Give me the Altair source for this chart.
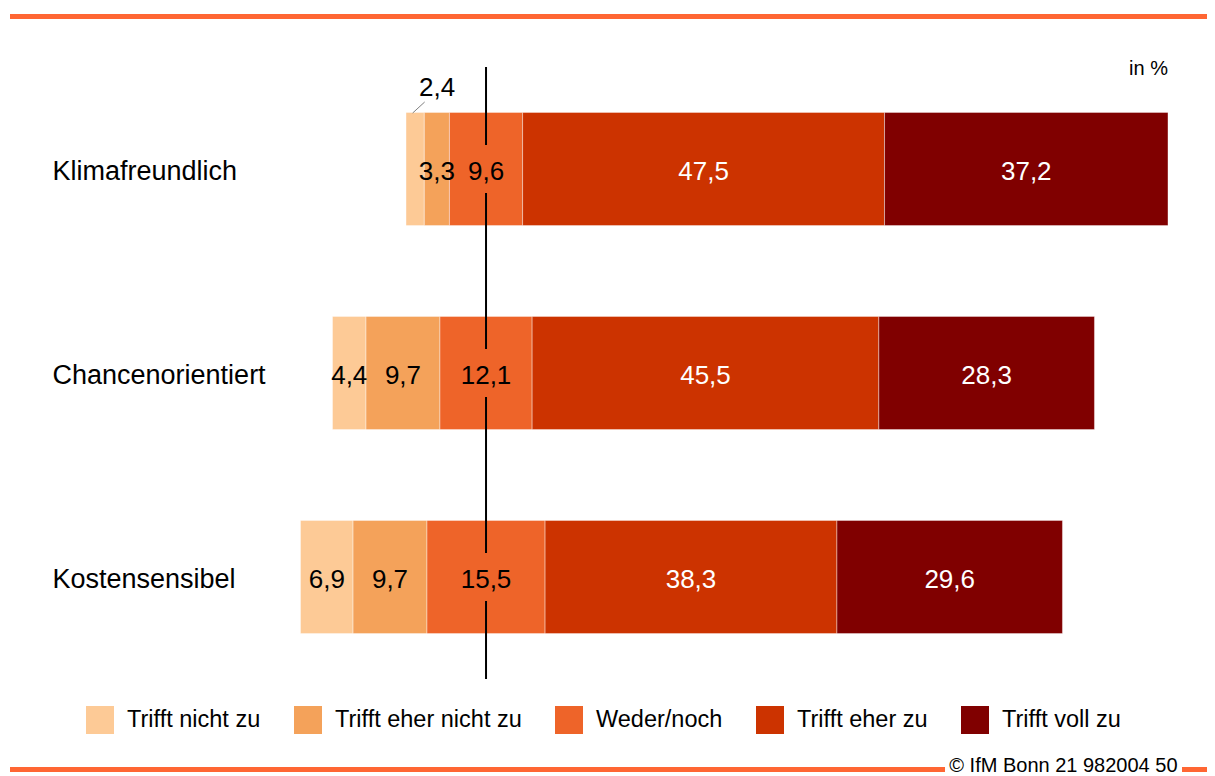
import altair as alt
import pandas as pd

categories = ["Klimafreundlich", "Chancenorientiert", "Kostensensibel"]
series = ["Trifft nicht zu", "Trifft eher nicht zu", "Weder/noch", "Trifft eher zu", "Trifft voll zu"]
colors = ["#FDCA96", "#F4A25A", "#EE6429", "#CC3300", "#800000"]

trifft_nicht_zu = [2.4, 4.4, 6.9]
trifft_eher_nicht_zu = [3.3, 9.7, 9.7]
weder_noch = [9.6, 12.1, 15.5]
trifft_eher_zu = [47.5, 45.5, 38.3]
trifft_voll_zu = [37.2, 28.3, 29.6]

all_values = [trifft_nicht_zu, trifft_eher_nicht_zu, weder_noch, trifft_eher_zu, trifft_voll_zu]

rows = []
for ci, cat in enumerate(categories):
    vals = [s[ci] for s in all_values]
    start = -(vals[0] + vals[1] + vals[2] / 2)
    for si, name in enumerate(series):
        v = vals[si]
        rows.append({
            "cat": cat, "series": name, "order": si, "value": v,
            "start": start, "end": start + v, "mid": start + v / 2,
            "label": f"{v:.1f}".replace(".", ","),
            "dark": si >= 3, "outside": v < 3, "zero": 0.0,
        })
        start += v
df = pd.DataFrame(rows)

FONT = "Liberation Sans"
W, H = 1116, 612

xs = alt.Scale(domain=[-56.96, 89.5], nice=False, zero=False)
ys = alt.Scale(domain=categories, paddingInner=0.445, paddingOuter=0.2225)

base = alt.Chart(df)
Y = alt.Y("cat:N", scale=ys, sort=categories)

bars = base.mark_bar(stroke="white", strokeWidth=0.8, strokeOpacity=0.5).encode(
    x=alt.X("start:Q", scale=xs, axis=None),
    x2="end:Q",
    y=alt.Y("cat:N", scale=ys, sort=categories,
            axis=alt.Axis(title=None, domain=False, ticks=False, tickSize=0,
                          labelAlign="left", labelPadding=0, labelFontSize=27,
                          labelOffset=3, labelColor="black", labelFont=FONT,
                          labelLimit=400)),
    color=alt.Color("series:N", scale=alt.Scale(domain=series, range=colors),
                    legend=alt.Legend(title=None, orient="none", legendX=34, legendY=639,
                                      direction="horizontal", symbolType="square",
                                      symbolSize=784, symbolStrokeWidth=0, symbolOpacity=1,
                                      labelFontSize=23.5, labelFont=FONT, labelColor="black",
                                      labelOffset=13, columnPadding=33, padding=0,
                                      labelLimit=400)),
    order=alt.Order("order:Q"),
)

center = alt.Chart(pd.DataFrame({"x": [0]})).mark_rule(color="black", strokeWidth=2).encode(
    x=alt.X("x:Q", scale=xs), y=alt.value(0), y2=alt.value(H)
)

mask = base.transform_filter(alt.datum.order == 2).mark_tick(
    color="#EE6429", thickness=6, size=48, opacity=1
).encode(x=alt.X("zero:Q", scale=xs), y=Y)

txt_in = base.transform_filter("!datum.outside")

text_dark = txt_in.transform_filter("!datum.dark").mark_text(
    fontSize=26, font=FONT, color="black", baseline="middle", dy=3
).encode(x=alt.X("mid:Q", scale=xs), y=Y, text="label:N")

text_light = txt_in.transform_filter("datum.dark").mark_text(
    fontSize=26, font=FONT, color="white", baseline="middle", dy=3
).encode(x=alt.X("mid:Q", scale=xs), y=Y, text="label:N")

outside = base.transform_filter("datum.outside")
text_out = outside.mark_text(
    fontSize=26, font=FONT, color="black", baseline="middle", dx=22, dy=-81
).encode(x=alt.X("mid:Q", scale=xs), y=Y, text="label:N")

leader = outside.mark_rule(color="#808080", strokeWidth=1,
                           xOffset=-2.5, x2Offset=9.5, yOffset=-56, y2Offset=-67).encode(
    x=alt.X("mid:Q", scale=xs), x2="mid:Q", y=Y, y2="cat:N"
)

unit = alt.Chart(pd.DataFrame({"t": ["in %"]})).mark_text(
    fontSize=20, font=FONT, color="black", align="right", baseline="middle"
).encode(x=alt.value(W), y=alt.value(2), text="t:N")

top_line = alt.Chart(pd.DataFrame({"a": [1]})).mark_rule(color="#FF6633", strokeWidth=5).encode(
    x=alt.value(-42), x2=alt.value(1160), y=alt.value(-50.5)
)
bottom_l = alt.Chart(pd.DataFrame({"a": [1]})).mark_rule(color="#FF6633", strokeWidth=5).encode(
    x=alt.value(-42), x2=alt.value(893), y=alt.value(702.5)
)
bottom_r = alt.Chart(pd.DataFrame({"a": [1]})).mark_rule(color="#FF6633", strokeWidth=5).encode(
    x=alt.value(1130), x2=alt.value(1160), y=alt.value(702.5)
)
copyright_t = alt.Chart(pd.DataFrame({"t": ["© IfM Bonn 21 982004 50"]})).mark_text(
    fontSize=20, font=FONT, color="black", align="center", baseline="middle"
).encode(x=alt.value(1011.4), y=alt.value(698.5), text="t:N")

chart = alt.layer(
    bars, center, mask, text_dark, text_light, text_out, leader,
    unit, top_line, bottom_l, bottom_r, copyright_t
).properties(
    width=W, height=H,
    autosize=alt.AutoSizeParams(type="none"),
    padding={"left": 44, "top": 59, "right": 39, "bottom": 97},
).configure(font=FONT).configure_view(stroke=None, strokeWidth=0)

chart.save("out.html", embed_options={"renderer": "svg", "actions": False})
